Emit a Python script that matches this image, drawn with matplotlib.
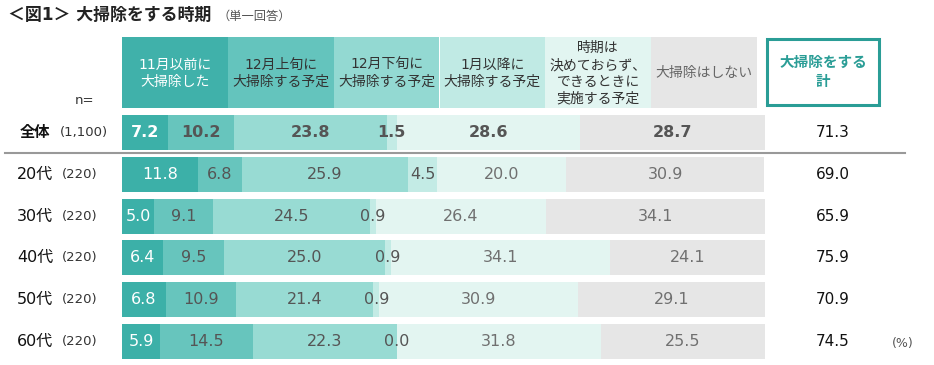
import matplotlib
matplotlib.use("Agg")
import matplotlib.pyplot as plt
from matplotlib.patches import Rectangle

plt.rcParams['font.family'] = ['DejaVu Sans', 'Noto Sans CJK JP']

title = "＜図1＞ 大掃除をする時期"
subtitle = "（単一回答）"
categories = ["11月以前に\n大掃除した", "12月上旬に\n大掃除する予定", "12月下旬に\n大掃除する予定",
              "1月以降に\n大掃除する予定", "時期は\n決めておらず、\nできるときに\n実施する予定", "大掃除はしない"]
row_names = ["全体", "20代", "30代", "40代", "50代", "60代"]
row_n = ["(1,100)", "(220)", "(220)", "(220)", "(220)", "(220)"]
values = [
    [7.2, 10.2, 23.8, 1.5, 28.6, 28.7],
    [11.8, 6.8, 25.9, 4.5, 20.0, 30.9],
    [5.0, 9.1, 24.5, 0.9, 26.4, 34.1],
    [6.4, 9.5, 25.0, 0.9, 34.1, 24.1],
    [6.8, 10.9, 21.4, 0.9, 30.9, 29.1],
    [5.9, 14.5, 22.3, 0.0, 31.8, 25.5],
]
totals = ["71.3", "69.0", "65.9", "75.9", "70.9", "74.5"]
total_header = "大掃除をする\n計"

seg_colors = ["#3cb0a8", "#67c5bd", "#98dbd3", "#c3ebe5", "#e3f5f1", "#e6e6e6"]
hdr_colors = ["#40b1aa", "#64c4bd", "#93d9d2", "#c0eae4", "#e2f5f1", "#e6e6e6"]
hdr_text_colors = ["white", "#333333", "#333333", "#333333", "#333333", "#666666"]

W, H = 934, 365
fig = plt.figure(figsize=(W / 100, H / 100), dpi=100)

ov = fig.add_axes([0, 0, 1, 1])
ov.set_xlim(0, W)
ov.set_ylim(H, 0)
ov.axis('off')

x0, x1 = 122, 765
ytop, ybot = 111.6, 362.4
bx = fig.add_axes([x0 / W, 1 - ybot / H, (x1 - x0) / W, (ybot - ytop) / H])
bx.set_xlim(0, 100)
bx.set_ylim(len(row_names) - 0.5, -0.5)
bx.axis('off')

for i, row in enumerate(values):
    left = 0
    for j, v in enumerate(row):
        bx.barh(i, v, left=left, height=0.84, color=seg_colors[j], edgecolor='none')
        if j == 0:
            tc = 'white'
        elif i == 0:
            tc = '#555555'
        else:
            tc = '#555555' if j < 4 else '#707070'
        bx.text(left + v / 2, i, f"{v:.1f}", ha='center', va='center', fontsize=11.5,
                color=tc, fontweight='bold' if i == 0 else 'normal')
        left += v

hx0, hx1 = 122, 757
hw = (hx1 - hx0) / 6
for j, cat in enumerate(categories):
    ov.add_patch(Rectangle((hx0 + j * hw, 37), hw, 71, facecolor=hdr_colors[j], edgecolor='none'))
    ov.text(hx0 + j * hw + hw / 2, 73.5, cat, ha='center', va='center', fontsize=10,
            color=hdr_text_colors[j], linespacing=1.25)

ov.add_patch(Rectangle((767, 39), 112, 66, facecolor='white', edgecolor='#2a9d96', lw=2.2))
ov.text(823, 72, total_header, ha='center', va='center', fontsize=10.5, fontweight='bold',
        color='#2a9d96', linespacing=1.3)

ov.text(8, 15, title, ha='left', va='center', fontsize=12.2, fontweight='bold', color='#222222')
ov.text(217, 16, subtitle, ha='left', va='center', fontsize=8.8, color='#555555')
ov.text(75, 101, "n=", ha='left', va='center', fontsize=9.5, color='#333333')

centers = [132.5, 174.3, 216.1, 257.9, 299.7, 341.5]
for i, (nm, n) in enumerate(zip(row_names, row_n)):
    yc = centers[i]
    if i == 0:
        ov.text(20, yc, nm, ha='left', va='center', fontsize=11, fontweight='bold', color='#111111')
        ov.text(60, yc, n, ha='left', va='center', fontsize=9.5, color='#333333')
    else:
        ov.text(17, yc, nm, ha='left', va='center', fontsize=11.5, color='#111111')
        ov.text(62, yc, n, ha='left', va='center', fontsize=9.5, color='#333333')
    ov.text(833, yc, totals[i], ha='center', va='center', fontsize=11, color='#111111')

ov.plot([5, 905], [152.5, 152.5], color='#999999', lw=1.5)
ov.text(903, 343, "(%)", ha='center', va='center', fontsize=9, color='#555555')

fig.savefig("out.png", dpi=100)
